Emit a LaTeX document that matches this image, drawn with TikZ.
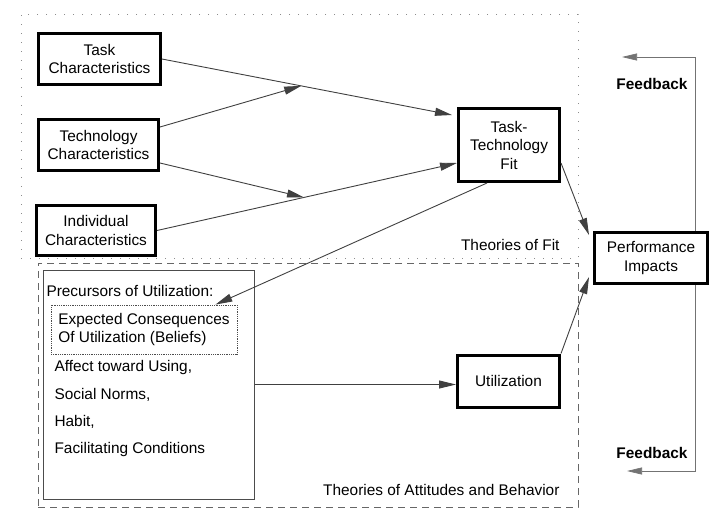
\documentclass[tikz,border=0pt]{standalone}
\usepackage{fontspec}
\setmainfont{Liberation Sans}
\usetikzlibrary{arrows.meta}

\begin{document}
\begin{tikzpicture}[x=1pt, y=-1pt,
	every node/.style={font=\fontsize{15.4}{18.5}\selectfont},
	factorBox/.style={rectangle, draw=black, line width=3pt, align=center, inner sep=0pt},
	flow/.style={-{Triangle[length=17pt, width=8pt]}, draw=black!75, line width=0.9pt},
	feedbackLine/.style={-{Triangle[length=15pt, width=7pt]}, draw=black!55, line width=0.7pt}]
	\useasboundingbox (0,0) rectangle (725,523);

	% the two theory regions
	\node[rectangle, draw=black!45, line width=1pt, dash pattern=on 1pt off 8pt, minimum width=557pt, minimum height=244pt](fitRegion) at (299.5,136){};
	\node[rectangle, draw=black!60, line width=0.9pt, dash pattern=on 7pt off 5pt, minimum width=540pt, minimum height=244pt](attitudeRegion) at (308,385){};
	\node[anchor=east](fitLabel) at (563,245){Theories of Fit};
	\node[anchor=east](attitudeLabel) at (563,490){Theories of Attitudes and Behavior};

	% fit boxes
	\node[factorBox, minimum width=122pt, minimum height=51pt](taskBox) at (99.5,59){Task\\Characteristics};
	\node[factorBox, minimum width=120pt, minimum height=51pt](techBox) at (98.5,145){Technology\\Characteristics};
	\node[factorBox, minimum width=119pt, minimum height=50pt](indivBox) at (96,230.5){Individual\\Characteristics};
	\node[factorBox, minimum width=101pt, minimum height=73pt](ttfBox) at (509,145){Task-\\Technology\\Fit};
	\node[factorBox, minimum width=113pt, minimum height=51pt](perfBox) at (651,258){Performance\\Impacts};
	\node[factorBox, minimum width=102pt, minimum height=52pt](utilBox) at (508.5,381){Utilization};

	% precursors of utilization
	\node[rectangle, draw=black!70, line width=1pt, minimum width=211pt, minimum height=229pt](precursorsBox) at (148.5,384.5){};
	\node[anchor=west](precursorsLabel) at (43,291){Precursors of Utilization:};
	\node[rectangle, draw=black!70, line width=0.8pt, densely dotted, align=left, minimum width=186pt, minimum height=49pt](beliefsBox) at (144,329.5){Expected Consequences\\Of Utilization (Beliefs)};
	\node[anchor=west](affectText) at (51,368){Affect toward Using,};
	\node[anchor=west](normsText) at (51,395){Social Norms,};
	\node[anchor=west](habitText) at (51,422){Habit,};
	\node[anchor=west](conditionsText) at (51,450){Facilitating Conditions};

	% arrows between boxes
	\coordinate(ttfTopIn) at ([xshift=-5pt, yshift=-8pt]ttfBox.north west);
	\coordinate(ttfLowIn) at ([yshift=20pt]ttfBox.south west);
	\draw[flow] (taskBox.east) -- (ttfTopIn);
	\path (taskBox.east) -- (ttfTopIn) coordinate[pos=0.48](mergeTop);
	\path (indivBox.east) -- (ttfLowIn) coordinate[pos=0.49](mergeLow);
	\draw[flow] ([yshift=-9pt]techBox.north east) -- (mergeTop);
	\draw[flow] ([yshift=9pt]techBox.south east) -- (mergeLow);
	\draw[flow] (indivBox.east) -- (ttfLowIn);
	\draw[flow] ([xshift=-22pt]ttfBox.south) -- ([xshift=-22pt]beliefsBox.north east);
	\draw[flow] ([yshift=20pt]ttfBox.south east) -- ([xshift=-4pt, yshift=-4pt]perfBox.north west);
	\draw[flow] (utilBox.north east) -- ([xshift=-4pt, yshift=8pt]perfBox.south west);
	\draw[flow] (precursorsBox.east) -- (precursorsBox.east -| utilBox.west);

	% feedback loops
	\coordinate(fbTop) at (622,57);
	\coordinate(fbBottom) at (627,471);
	\draw[feedbackLine] ([xshift=44pt]perfBox.north) |- (fbTop);
	\draw[feedbackLine] ([xshift=44pt]perfBox.south) |- (fbBottom);
	\node(fbTopLabel) at (652,84){\bfseries Feedback};
	\node(fbBottomLabel) at (652,453){\bfseries Feedback};
\end{tikzpicture}
\end{document}
